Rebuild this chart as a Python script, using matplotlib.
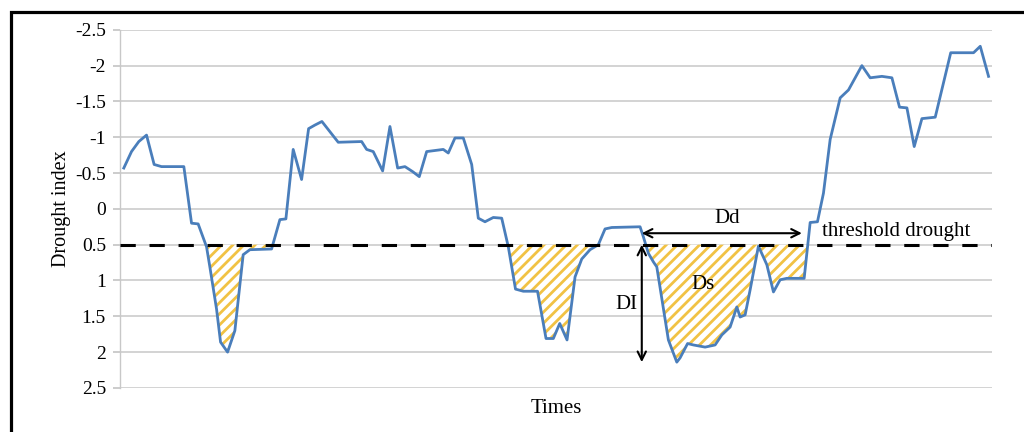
import matplotlib

matplotlib.use("Agg")
import matplotlib.pyplot as plt
from matplotlib.patches import Rectangle

# Valores (tempo em unidades arbitrárias, índice de seca)
tempos = [
    0, 7.7, 15, 22.7, 30.3, 37.7, 60, 67.7, 74.3, 82.7,
    86, 92.7, 96.7, 103.7, 111, 119.3, 126, 147.7, 156, 162,
    169.3, 177.7, 184.7, 191, 198, 214.3, 237.7, 242.7, 249.3, 258.7,
    266, 273.7, 281, 288.7, 295.3, 302.7, 319.3, 324.3, 331, 339.3,
    347.7, 354.3, 361, 369.3, 377.7, 384.3, 391.5, 399.3, 413.5, 422,
    429.3, 435.7, 443, 451, 457.7, 466, 474.3, 481, 487.7, 516,
    519.3, 524.3, 529.3, 532.7, 544.3, 552.7, 556, 563.5, 569.3, 581,
    591, 597.7, 606, 612.7, 616, 621, 626, 634.3, 642.7, 649.3,
    656, 662.7, 680, 686, 693.3, 699.3, 706, 716, 724.3, 731,
    737.7, 746, 757.7, 767.7, 775.3, 782.7, 790, 797.7, 811, 826.5,
    849.3, 856, 864.3,
]
indice_seca = [
    -0.57, -0.80, -0.94, -1.03, -0.62, -0.59, -0.59, 0.20, 0.21, 0.53,
    0.81, 1.40, 1.86, 2.00, 1.70, 0.64, 0.57, 0.56, 0.15, 0.14,
    -0.83, -0.41, -1.12, -1.17, -1.22, -0.93, -0.94, -0.83, -0.80, -0.53,
    -1.15, -0.57, -0.59, -0.52, -0.45, -0.80, -0.83, -0.78, -0.99, -0.99,
    -0.62, 0.13, 0.18, 0.12, 0.13, 0.53, 1.12, 1.15, 1.15, 1.81,
    1.81, 1.60, 1.83, 0.95, 0.70, 0.57, 0.50, 0.28, 0.26, 0.25,
    0.39, 0.62, 0.74, 0.81, 1.83, 2.14, 2.08, 1.88, 1.90, 1.93,
    1.90, 1.76, 1.65, 1.37, 1.51, 1.48, 1.13, 0.52, 0.78, 1.16,
    0.99, 0.97, 0.97, 0.19, 0.18, -0.22, -0.97, -1.55, -1.66, -1.83,
    -2.00, -1.83, -1.85, -1.83, -1.42, -1.41, -0.87, -1.26, -1.28, -2.18,
    -2.18, -2.27, -1.85,
]
limiar = 0.5
marcas_y = [-2.5, -2, -1.5, -1, -0.5, 0, 0.5, 1, 1.5, 2, 2.5]
rotulos_y = ["-2.5", "-2", "-1.5", "-1", "-0.5", "0", "0.5", "1", "1.5", "2", "2.5"]

plt.rcParams["font.family"] = ["Liberation Serif", "DejaVu Serif"]
plt.rcParams["hatch.linewidth"] = 2.0
plt.rcParams["hatch.color"] = "#F1C244"

figura = plt.figure(figsize=(10.24, 4.32), dpi=100)
eixo = figura.add_axes([0.117, 0.102, 0.852, 0.829])

# Moldura preta ao redor da figura (cortada à direita e embaixo)
figura.add_artist(Rectangle((11 / 1024, -0.2), 1.2, 1 - 12 / 432 + 0.2,
                            transform=figura.transFigure, fill=False,
                            edgecolor="black", linewidth=2.3, clip_on=False))

eixo.fill_between(tempos, indice_seca, limiar,
                  where=[v > limiar for v in indice_seca], interpolate=True,
                  facecolor="white", edgecolor="#F1C244", hatch="///",
                  linewidth=0, zorder=2)
eixo.plot(tempos, indice_seca, color="#4A7EBB", linewidth=2.0, zorder=3)
eixo.axhline(limiar, color="black", linewidth=2.2, dashes=(5, 4.5), zorder=4)

eixo.set_xlim(-4, 868)
eixo.set_ylim(2.5, -2.5)
eixo.set_yticks(marcas_y, rotulos_y)
eixo.set_xticks([])
eixo.grid(axis="y", color="#D0D0D0", linewidth=1.3)
eixo.set_axisbelow(True)
for lado in ["top", "right", "bottom"]:
    eixo.spines[lado].set_visible(False)
eixo.spines["left"].set_color("#C8C8C8")
eixo.spines["left"].set_linewidth(1.0)
eixo.tick_params(axis="y", length=5, color="#C8C8C8", width=1.3,
                 labelsize=14, pad=5)

eixo.set_ylabel("Drought index", fontsize=14.5, labelpad=3)
eixo.set_xlabel("Times", fontsize=15, labelpad=8)

# Setas e rótulos das características da seca
eixo.annotate("", xy=(517.7, 0.34), xytext=(677.7, 0.34),
              arrowprops=dict(arrowstyle="<->", color="black", lw=1.5,
                              mutation_scale=15, shrinkA=0, shrinkB=0),
              zorder=5)
eixo.annotate("", xy=(517.7, 0.5), xytext=(517.7, 2.14),
              arrowprops=dict(arrowstyle="<->", color="black", lw=1.5,
                              mutation_scale=15, shrinkA=0, shrinkB=0),
              zorder=5)
eixo.text(603, 0.13, "Dd", fontsize=15, ha="center", va="center")
eixo.text(502.5, 1.34, "DI", fontsize=15, ha="center", va="center")
eixo.text(579, 1.06, "Ds", fontsize=15, ha="center", va="center")
eixo.text(698.3, 0.31, "threshold drought", fontsize=15, ha="left",
          va="center")

figura.savefig("out.png", dpi=100)
plt.close(figura)
